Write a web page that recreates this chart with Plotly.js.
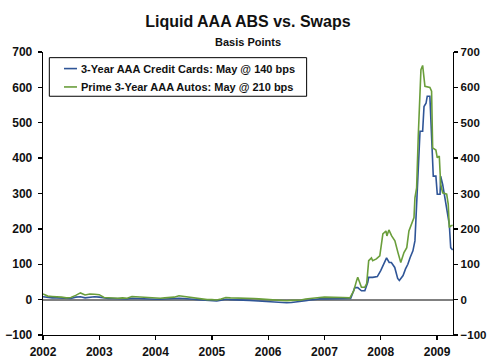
<!DOCTYPE html>
<html>
<head>
<meta charset="utf-8">
<script src="https://cdn.plot.ly/plotly-3.0.1.min.js"></script>
<style>
  html, body { margin: 0; padding: 0; background: #fff; }
  #chart { width: 487px; height: 358px; }
</style>
</head>
<body>
<div id="chart"></div>
<script>
// Series labels
const cardsName = '3-Year AAA Credit Cards: May @ 140 bps';
const autosName = 'Prime 3-Year AAA Autos: May @ 210 bps';

// Monthly spreads 2002 through mid-2007 (bps over swaps)
const earlyDates = [
  '2002-01-01','2002-02-01','2002-03-01','2002-04-01','2002-05-01','2002-06-01',
  '2002-07-01','2002-08-01','2002-09-01','2002-10-01','2002-11-01','2002-12-01',
  '2003-01-01','2003-02-01','2003-03-01','2003-04-01','2003-05-01','2003-06-01',
  '2003-07-01','2003-08-01','2003-09-01','2003-10-01','2003-11-01','2003-12-01',
  '2004-01-01','2004-02-01','2004-03-01','2004-04-01','2004-05-01','2004-06-01',
  '2004-07-01','2004-08-01','2004-09-01','2004-10-01','2004-11-01','2004-12-01',
  '2005-01-01','2005-02-01','2005-03-01','2005-04-01','2005-05-01','2005-06-01',
  '2005-07-01','2005-08-01','2005-09-01','2005-10-01','2005-11-01','2005-12-01',
  '2006-01-01','2006-02-01','2006-03-01','2006-04-01','2006-05-01','2006-06-01',
  '2006-07-01','2006-08-01','2006-09-01','2006-10-01','2006-11-01','2006-12-01',
  '2007-01-01','2007-02-01','2007-03-01','2007-04-01','2007-05-01','2007-06-15'
];
const earlyCards = [
  8,6,5,5,4,3, 3,7,8,5,7,8,
  7,4,3,3,2,3, 2,4,3,3,2,2,
  1,1,2,2,3,4, 3,3,1,0,-1,-2,
  -3,-4,-2,1,0,0, -1,-2,-2,-3,-4,-5,
  -6,-7,-7,-9,-9,-8, -7,-6,-3,-1,1,2,
  2,2,2,2,2,2
];
const earlyAutos = [
  16,10,9,9,7,5, 6,12,19,13,16,15,
  14,6,5,5,4,5, 4,9,8,6,5,5,
  4,4,5,5,7,11, 9,8,5,3,1,0,
  0,-1,2,6,5,5, 4,4,3,3,2,1,
  0,-1,-2,-3,-3,-2, -2,-1,2,4,5,6,
  7,7,8,7,6,5
];

// Credit-crunch period, weekly observations
const lateCardsDates = [
  '2007-06-20','2007-07-17','2007-08-05','2007-08-29','2007-09-20','2007-10-09',
  '2007-10-15','2007-11-10','2007-12-10','2008-01-01','2008-01-20','2008-02-08',
  '2008-02-25','2008-03-10','2008-04-01','2008-04-20','2008-05-01','2008-05-25',
  '2008-06-10','2008-06-25','2008-07-10','2008-07-28','2008-08-10','2008-08-21',
  '2008-09-01','2008-09-12','2008-09-29','2008-10-08','2008-10-21','2008-10-29',
  '2008-11-15','2008-11-22','2008-11-30','2008-12-07','2008-12-24','2009-01-02',
  '2009-01-20','2009-01-24','2009-02-06','2009-02-21','2009-03-08','2009-03-21',
  '2009-03-30','2009-04-12'
];
const lateCards = [
  3,34,34,25,25,49,
  63,63,65,82,101,118,
  105,105,91,60,54,68,
  87,100,119,138,166,279,
  391,476,476,546,555,575,
  575,513,429,349,349,298,
  298,349,326,288,251,213,
  147,140
];
const lateAutosDates = [
  '2007-07-10','2007-07-28','2007-08-05','2007-08-29','2007-09-20','2007-10-02',
  '2007-10-15','2007-11-02','2007-11-10','2007-12-04','2007-12-26','2008-01-15',
  '2008-02-04','2008-02-10','2008-02-23','2008-03-12','2008-04-02','2008-04-22',
  '2008-05-10','2008-05-31','2008-06-18','2008-07-02','2008-07-20','2008-08-04',
  '2008-08-10','2008-08-21','2008-09-01','2008-09-12','2008-09-18','2008-09-29',
  '2008-10-08','2008-10-14','2008-11-15','2008-11-26','2008-12-03','2008-12-24',
  '2009-01-02','2009-01-15','2009-01-24','2009-02-06','2009-03-04','2009-03-14',
  '2009-03-21','2009-03-30','2009-04-12'
];
const lateAutos = [
  25,53,63,35,35,45,
  110,118,110,115,124,186,
  194,180,197,180,166,133,
  105,133,147,194,214,232,
  288,316,467,589,650,662,
  626,603,600,589,429,423,
  401,406,326,302,298,270,
  204,208,210
];

const cardsDates = earlyDates.concat(lateCardsDates);
const cardsSpread = earlyCards.concat(lateCards);
const autosDates = earlyDates.concat(lateAutosDates);
const autosSpread = earlyAutos.concat(lateAutos);

const cardsColor = '#2F5597';
const autosColor = '#6A9E3B';
const xRange = ['2002-01-01', '2009-04-14'];
const yRange = [-100, 700];
const font = 'Liberation Sans, Arial, sans-serif';

const traces = [
  { x: cardsDates, y: cardsSpread, name: cardsName, type: 'scatter', mode: 'lines',
    line: { color: cardsColor, width: 1.6 }, xaxis: 'x', yaxis: 'y', showlegend: false },
  { x: autosDates, y: autosSpread, name: autosName, type: 'scatter', mode: 'lines',
    line: { color: autosColor, width: 1.6 }, xaxis: 'x', yaxis: 'y2', showlegend: false }
];

const tickFont = { family: font, size: 12, color: '#111', weight: 700 };
const boldLabel = s => '<b>' + s + '</b>';

const layout = {
  width: 487, height: 358,
  margin: { l: 43, r: 34, t: 52, b: 23, pad: 0 },
  paper_bgcolor: '#fff', plot_bgcolor: '#fff',
  showlegend: false,
  title: {
    text: boldLabel('Liquid AAA ABS vs. Swaps'),
    font: { family: font, size: 16, color: '#111' },
    x: 0.509, xanchor: 'center', xref: 'container',
    y: 0.94, yanchor: 'middle', yref: 'container'
  },
  xaxis: {
    type: 'date', range: xRange, tick0: '2002-01-01', dtick: 'M12', tickformat: '<b>%Y</b>',
    showgrid: false, zeroline: false, showline: true, linecolor: '#000', linewidth: 1.3,
    ticks: 'outside', ticklen: 4, tickcolor: '#000', tickwidth: 1.3,
    ticklabelstandoff: 1,
    tickfont: tickFont, layer: 'above traces'
  },
  xaxis2: {
    type: 'date', range: xRange, overlaying: 'x', anchor: 'y', side: 'top',
    showgrid: false, zeroline: false, showline: true, linecolor: '#8a8a8a', linewidth: 2,
    ticks: '', showticklabels: false
  },
  xaxis3: {
    type: 'date', range: xRange, overlaying: 'x', anchor: 'y', side: 'bottom',
    tick0: '2002-01-01', dtick: 'M12',
    showgrid: false, zeroline: false, showline: false,
    ticks: 'inside', ticklen: 5, tickcolor: '#000', tickwidth: 1.3, showticklabels: false
  },
  yaxis: {
    range: yRange, dtick: 100, tick0: 0, side: 'left',
    showgrid: false, zeroline: true, zerolinecolor: '#808080', zerolinewidth: 2,
    showline: true, linecolor: '#000', linewidth: 1.3,
    ticks: 'outside', ticklen: 4, tickcolor: '#000', tickwidth: 1.3,
    ticklabelstandoff: 3,
    tickprefix: '<b>', ticksuffix: '</b>',
    tickfont: tickFont
  },
  yaxis2: {
    range: yRange, dtick: 100, tick0: 0, overlaying: 'y', anchor: 'x', side: 'right',
    showgrid: false, zeroline: false,
    showline: true, linecolor: '#000', linewidth: 1.3,
    ticks: 'outside', ticklen: 4, tickcolor: '#000', tickwidth: 1.3,
    ticklabelstandoff: 0,
    tickprefix: '<b>', ticksuffix: '</b>',
    tickfont: Object.assign({}, tickFont, { size: 11.5 })
  },
  yaxis3: {
    range: yRange, dtick: 100, tick0: 0, overlaying: 'y', anchor: 'x', side: 'left',
    showgrid: false, zeroline: false, showline: false,
    ticks: 'inside', ticklen: 5, tickcolor: '#000', tickwidth: 1.3, showticklabels: false
  },
  yaxis4: {
    range: yRange, dtick: 100, tick0: 0, overlaying: 'y', anchor: 'x', side: 'right',
    showgrid: false, zeroline: false, showline: false,
    ticks: 'inside', ticklen: 5, tickcolor: '#000', tickwidth: 1.3, showticklabels: false
  },
  annotations: [
    { text: boldLabel('Basis Points'), xref: 'paper', yref: 'paper', x: 0.5, y: 1.035,
      xanchor: 'center', yanchor: 'middle', showarrow: false,
      font: { family: font, size: 11, color: '#111' } },
    { text: boldLabel(cardsName), xref: 'paper', yref: 'paper', x: 0.0878, y: 0.9414,
      xanchor: 'left', yanchor: 'middle', showarrow: false,
      font: { family: font, size: 11, color: '#111' } },
    { text: boldLabel(autosName), xref: 'paper', yref: 'paper', x: 0.0878, y: 0.8765,
      xanchor: 'left', yanchor: 'middle', showarrow: false,
      font: { family: font, size: 11, color: '#111' } }
  ],
  shapes: [
    // key box
    { type: 'rect', xref: 'paper', yref: 'paper', x0: 0.0154, x1: 0.643, y0: 0.8436, y1: 0.980,
      line: { color: '#000', width: 1 }, fillcolor: 'rgba(255,255,255,0)' },
    // key swatches
    { type: 'line', xref: 'paper', yref: 'paper', x0: 0.0512, x1: 0.0829, y0: 0.9414, y1: 0.9414,
      line: { color: cardsColor, width: 1.6 } },
    { type: 'line', xref: 'paper', yref: 'paper', x0: 0.0512, x1: 0.0829, y0: 0.8765, y1: 0.8765,
      line: { color: autosColor, width: 1.6 } }
  ]
};

Plotly.newPlot('chart', traces, layout, { staticPlot: true, displayModeBar: false });
</script>
</body>
</html>
